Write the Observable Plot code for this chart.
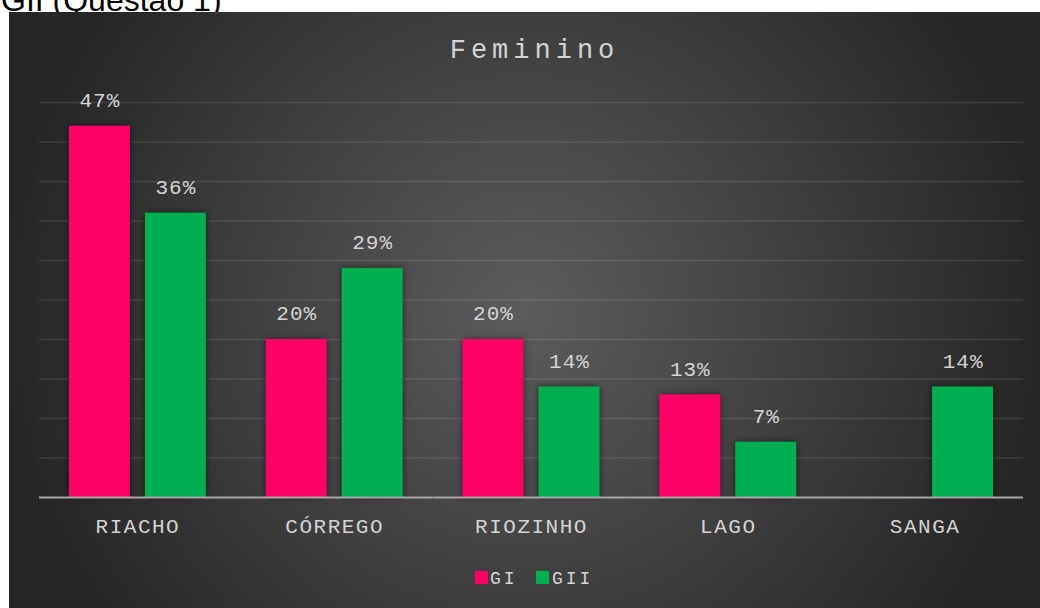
<!DOCTYPE html>
<html>
<head>
<meta charset="utf-8">
<script src="https://cdn.jsdelivr.net/npm/d3@7"></script>
<script src="https://cdn.jsdelivr.net/npm/@observablehq/plot@0.6"></script>
<style>
html, body { margin: 0; padding: 0; background: #fff; width: 1040px; height: 608px; overflow: hidden; }
#top { position: absolute; left: 1px; top: -16px; font: 32px "Liberation Sans", Arial, sans-serif; line-height: 32px; color: #000; white-space: nowrap; }
#chart { position: absolute; left: 9px; top: 12px; width: 1031px; height: 596px; overflow: hidden;
  background: radial-gradient(circle 520px at 50% 50%, #5c5c5c 0%, #262626 100%); }
#title { position: absolute; left: 10px; top: 26px; width: 1031px; text-align: center; font-family: "Liberation Mono", monospace;
  font-size: 27px; line-height: 27px; letter-spacing: 5px; color: #d4d4d4; }
#plot { position: absolute; left: 0; top: 0; }
#plot svg g[aria-label="bar"] rect { filter: drop-shadow(0 0 3px rgba(0,0,0,0.55)); }
#plot svg g[aria-label="text"] text { letter-spacing: 1px; }
#plot svg g[aria-label="fx-axis tick label"] text { letter-spacing: 1.5px; }
.lg { position: absolute; top: 558px; font-family: "Liberation Mono", monospace; font-size: 18px; line-height: 18px; letter-spacing: 3px; color: #d4d4d4; white-space: nowrap; }
.sw { position: absolute; width: 13px; height: 13px; top: 559px; }
</style>
</head>
<body>
<div id="top">GII (Questão 1)</div>
<div id="chart">
  <div id="title">Feminino</div>
  <div id="plot"></div>
  <div id="legend"></div>
</div>
<script>
const categories = ["RIACHO", "CÓRREGO", "RIOZINHO", "LAGO", "SANGA"];
const seriesNames = ["GI", "GII"];
const giValues = [47, 20, 20, 13, 0];
const giiValues = [36, 29, 14, 7, 14];
const gridTicks = [5, 10, 15, 20, 25, 30, 35, 40, 45, 50];
const seriesColors = ["#FF0066", "#00B050"];

const data = categories.flatMap((c, i) => [
  {cat: c, s: seriesNames[0], v: giValues[i]},
  {cat: c, s: seriesNames[1], v: giiValues[i]}
]);

const plot = Plot.plot({
  width: 1031,
  height: 560,
  marginLeft: 30,
  marginRight: 17,
  marginTop: 90,
  marginBottom: 75,
  style: {background: "transparent", fontFamily: "'Liberation Mono', monospace", overflow: "visible"},
  fx: {domain: categories, padding: 0, round: false, label: null, axis: null},
  x: {domain: seriesNames, paddingInner: 0.197, paddingOuter: 0.394, round: false, axis: null},
  y: {domain: [0, 50], axis: null},
  color: {domain: seriesNames, range: seriesColors},
  marks: [
    Plot.gridY(gridTicks, {stroke: "#ffffff", strokeOpacity: 0.1, strokeWidth: 1.5}),
    Plot.barY(data, {fx: "cat", x: "s", y: "v", fill: "s"}),
    Plot.ruleY([0], {stroke: "#a6a6a6", strokeWidth: 2}),
    Plot.text(data.filter(d => d.v > 0), {fx: "cat", x: "s", y: "v", text: d => d.v + "%", dy: -26,
      fill: "#d4d4d4", fontSize: 21, lineAnchor: "middle"}),
    Plot.axisFx({anchor: "bottom", tickSize: 0, tickPadding: 21, fontSize: 21, fill: "#d4d4d4", label: null})
  ]
});
document.getElementById("plot").appendChild(plot);

const legend = document.getElementById("legend");
const lgPos = [{sw: 466, tx: 481}, {sw: 527, tx: 543}];
seriesNames.forEach((name, i) => {
  const sw = document.createElement("div");
  sw.className = "sw";
  sw.style.left = lgPos[i].sw + "px";
  sw.style.background = seriesColors[i];
  legend.appendChild(sw);
  const tx = document.createElement("div");
  tx.className = "lg";
  tx.style.left = lgPos[i].tx + "px";
  tx.textContent = name;
  legend.appendChild(tx);
});
</script>
</body>
</html>
